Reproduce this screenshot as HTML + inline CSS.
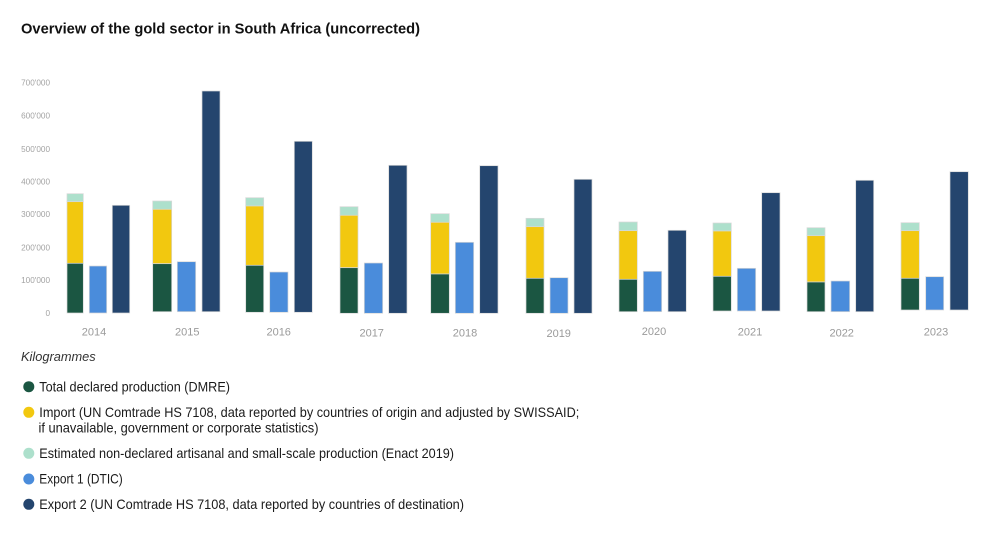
<!DOCTYPE html>
<html><head><meta charset="utf-8">
<style>
html,body{margin:0;padding:0;background:#fff;}
svg{display:block;}
</style></head>
<body>
<svg width="1000" height="551" viewBox="0 0 1000 551" xmlns="http://www.w3.org/2000/svg" font-family="'Liberation Sans', Arial, sans-serif">
<rect width="1000" height="551" fill="#fff"/>
<text x="21" y="33.5" font-size="15" font-weight="bold" fill="#111" textLength="399" lengthAdjust="spacingAndGlyphs">Overview of the gold sector in South Africa (uncorrected)</text>

<g font-size="8.2" fill="#a3a3a3" text-anchor="end">
<text x="50" y="85.3">700'000</text>
<text x="50" y="118.7">600'000</text>
<text x="50" y="152">500'000</text>
<text x="50" y="184.7">400'000</text>
<text x="50" y="217">300'000</text>
<text x="50" y="250.7">200'000</text>
<text x="50" y="283">100'000</text>
<text x="50" y="316">0</text>
</g>

<g stroke="#d8d8d8" stroke-width="0.7">
<!-- 2014 -->
<rect x="67" y="193.7" width="16.3" height="8" fill="#ade0cc"/>
<rect x="67" y="201.7" width="16.3" height="61.6" fill="#f2c80f"/>
<rect x="67" y="263.3" width="16.3" height="49.7" fill="#1b5642"/>
<rect x="89.3" y="266" width="17.4" height="47" fill="#4a8cdb"/>
<rect x="112.3" y="205.3" width="17.4" height="107.7" fill="#24456e"/>
<!-- 2015 -->
<rect x="152.7" y="201" width="19" height="8.3" fill="#ade0cc"/>
<rect x="152.7" y="209.3" width="19" height="54.4" fill="#f2c80f"/>
<rect x="152.7" y="263.7" width="19" height="48" fill="#1b5642"/>
<rect x="177.3" y="261.7" width="18.4" height="50" fill="#4a8cdb"/>
<rect x="202" y="91" width="18" height="220.7" fill="#24456e"/>
<!-- 2016 -->
<rect x="245.7" y="197.7" width="18" height="8.3" fill="#ade0cc"/>
<rect x="245.7" y="206" width="18" height="59.3" fill="#f2c80f"/>
<rect x="245.7" y="265.3" width="18" height="47" fill="#1b5642"/>
<rect x="269.7" y="272" width="18.3" height="40.3" fill="#4a8cdb"/>
<rect x="294.3" y="141.3" width="18" height="171" fill="#24456e"/>
<!-- 2017 -->
<rect x="340" y="206.7" width="18" height="8.6" fill="#ade0cc"/>
<rect x="340" y="215.3" width="18" height="52.4" fill="#f2c80f"/>
<rect x="340" y="267.7" width="18" height="45.6" fill="#1b5642"/>
<rect x="364.3" y="263" width="18.4" height="50.3" fill="#4a8cdb"/>
<rect x="388.7" y="165.3" width="18.3" height="148" fill="#24456e"/>
<!-- 2018 -->
<rect x="430.7" y="213.7" width="18.6" height="8.6" fill="#ade0cc"/>
<rect x="430.7" y="222.3" width="18.6" height="51.7" fill="#f2c80f"/>
<rect x="430.7" y="274" width="18.6" height="39.3" fill="#1b5642"/>
<rect x="455.3" y="242.3" width="18.4" height="71" fill="#4a8cdb"/>
<rect x="479.7" y="165.7" width="18.3" height="147.6" fill="#24456e"/>
<!-- 2019 -->
<rect x="526" y="218.3" width="18" height="8.4" fill="#ade0cc"/>
<rect x="526" y="226.7" width="18" height="51.6" fill="#f2c80f"/>
<rect x="526" y="278.3" width="18" height="35" fill="#1b5642"/>
<rect x="550" y="277.7" width="18" height="35.6" fill="#4a8cdb"/>
<rect x="574" y="179.3" width="18" height="134" fill="#24456e"/>
<!-- 2020 -->
<rect x="619" y="222" width="18.3" height="8.7" fill="#ade0cc"/>
<rect x="619" y="230.7" width="18.3" height="48.6" fill="#f2c80f"/>
<rect x="619" y="279.3" width="18.3" height="32.4" fill="#1b5642"/>
<rect x="643.3" y="271.3" width="18.4" height="40.4" fill="#4a8cdb"/>
<rect x="668" y="230.3" width="18.3" height="81.4" fill="#24456e"/>
<!-- 2021 -->
<rect x="713" y="223" width="18.3" height="8" fill="#ade0cc"/>
<rect x="713" y="231" width="18.3" height="45.3" fill="#f2c80f"/>
<rect x="713" y="276.3" width="18.3" height="34.7" fill="#1b5642"/>
<rect x="737.3" y="268.3" width="18.4" height="42.7" fill="#4a8cdb"/>
<rect x="761.7" y="192.7" width="18.3" height="118.3" fill="#24456e"/>
<!-- 2022 -->
<rect x="807" y="227.7" width="18" height="8" fill="#ade0cc"/>
<rect x="807" y="235.7" width="18" height="46.3" fill="#f2c80f"/>
<rect x="807" y="282" width="18" height="29.7" fill="#1b5642"/>
<rect x="831" y="281" width="18.7" height="30.7" fill="#4a8cdb"/>
<rect x="855.7" y="180.3" width="18" height="131.4" fill="#24456e"/>
<!-- 2023 -->
<rect x="901" y="222.7" width="18.3" height="8" fill="#ade0cc"/>
<rect x="901" y="230.7" width="18.3" height="47.6" fill="#f2c80f"/>
<rect x="901" y="278.3" width="18.3" height="31.7" fill="#1b5642"/>
<rect x="925.7" y="276.7" width="18" height="33.3" fill="#4a8cdb"/>
<rect x="950" y="171.7" width="18.3" height="138.3" fill="#24456e"/>
</g>

<g font-size="11" fill="#9a9a9a" text-anchor="middle">
<text x="94" y="335.5">2014</text>
<text x="187.3" y="335.5">2015</text>
<text x="278.7" y="335.5">2016</text>
<text x="371.7" y="336.5">2017</text>
<text x="465" y="336.5">2018</text>
<text x="558.7" y="337">2019</text>
<text x="654" y="335">2020</text>
<text x="750" y="335.5">2021</text>
<text x="841.7" y="336.5">2022</text>
<text x="936" y="335.5">2023</text>
</g>

<text x="21" y="361" font-size="13" font-style="italic" fill="#333" textLength="74.7" lengthAdjust="spacingAndGlyphs">Kilogrammes</text>

<g>
<circle cx="28.8" cy="386.7" r="5.5" fill="#1b5642"/>
<circle cx="28.8" cy="412.3" r="5.5" fill="#f2c80f"/>
<circle cx="28.8" cy="453.3" r="5.5" fill="#ade0cc"/>
<circle cx="28.8" cy="479" r="5.5" fill="#4a8cdb"/>
<circle cx="28.8" cy="504.3" r="5.5" fill="#24456e"/>
</g>
<g font-size="14" fill="#1a1a1a">
<text x="39.3" y="391.5" textLength="190.7" lengthAdjust="spacingAndGlyphs">Total declared production (DMRE)</text>
<text x="39.3" y="417" textLength="540" lengthAdjust="spacingAndGlyphs">Import (UN Comtrade HS 7108, data reported by countries of origin and adjusted by SWISSAID;</text>
<text x="38.5" y="432.5" textLength="280" lengthAdjust="spacingAndGlyphs">if unavailable, government or corporate statistics)</text>
<text x="39.3" y="458" textLength="414.7" lengthAdjust="spacingAndGlyphs">Estimated non-declared artisanal and small-scale production (Enact 2019)</text>
<text x="39.3" y="483.5" textLength="83.4" lengthAdjust="spacingAndGlyphs">Export 1 (DTIC)</text>
<text x="39.3" y="509" textLength="424.7" lengthAdjust="spacingAndGlyphs">Export 2 (UN Comtrade HS 7108, data reported by countries of destination)</text>
</g>
</svg>
</body></html>
